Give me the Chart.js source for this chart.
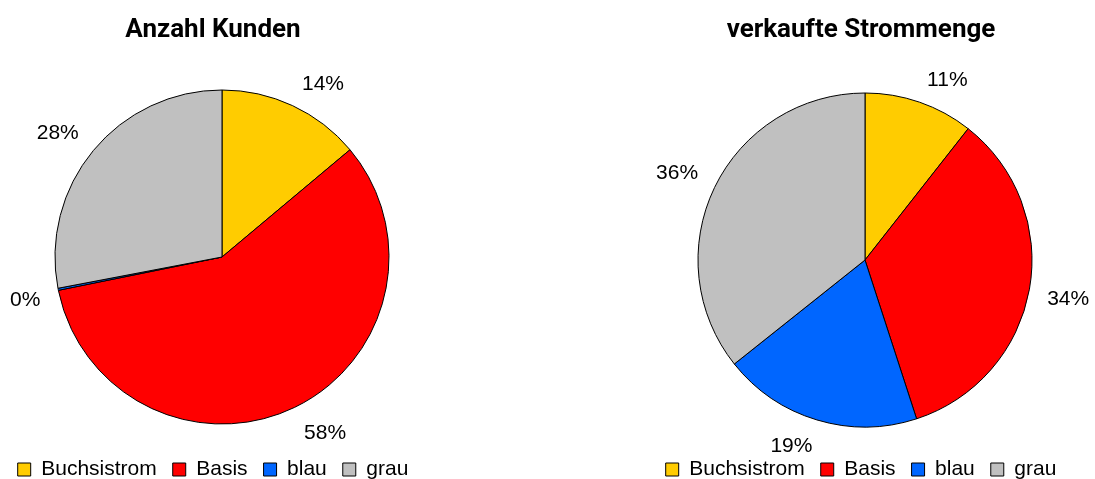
<!DOCTYPE html>
<html>
<head>
<meta charset="utf-8">
<script src="https://cdn.jsdelivr.net/npm/chart.js@4"></script>
<style>
  html, body { margin: 0; padding: 0; background: #fff; overflow: hidden; }
  .wrap { position: absolute; top: 0; width: 548px; height: 490px; }
  #left { left: -61px; }
  #right { left: 587px; }
</style>
</head>
<body>
<div class="wrap" id="left"><canvas id="kunden" width="548" height="490"></canvas></div>
<div class="wrap" id="right"><canvas id="strom" width="548" height="490"></canvas></div>
<script>
const categories = ["Buchsistrom", "Basis", "blau", "grau"];
const kundenShares = [13.9, 57.9, 0.2, 28.0];
const stromShares = [10.6, 34.4, 19.3, 35.7];
const sliceColors = ["#FFCC00", "#FF0000", "#0066FF", "#C0C0C0"];

// move the chart area so the pie centre lands where it is in the picture
const placePie = {
  id: "placePie",
  afterLayout(chart, args, opts) {
    const a = chart.chartArea;
    const w = a.right - a.left;
    const h = a.bottom - a.top;
    a.left = opts.cx - w / 2;
    a.right = opts.cx + w / 2;
    a.top = opts.cy - h / 2;
    a.bottom = opts.cy + h / 2;
  }
};

const clamp = v => Math.max(-1, Math.min(1, v));

// percentage labels outside each slice, pushed away from the pie
const outsideLabels = {
  id: "outsideLabels",
  afterDatasetsDraw(chart, args, opts) {
    const ctx = chart.ctx;
    const meta = chart.getDatasetMeta(0);
    const data = chart.data.datasets[0].data;
    ctx.save();
    ctx.font = opts.font;
    ctx.fillStyle = "#000";
    ctx.textAlign = "center";
    ctx.textBaseline = "middle";
    meta.data.forEach((arc, i) => {
      const mid = (arc.startAngle + arc.endAngle) / 2;
      const dx = Math.cos(mid);
      const dy = Math.sin(mid);
      const px = arc.x + dx * opts.dist;
      const py = arc.y + dy * opts.dist;
      const text = Math.round(data[i]) + "%";
      const w = ctx.measureText(text).width;
      const x = px + clamp(dx * 3) * w / 2 + Math.sign(dx) * 3;
      const y = py + clamp(dy * 3) * opts.height / 2 + 2;
      ctx.fillText(text, x, y);
    });
    ctx.restore();
  }
};

const makePie = (id, title, values, cx, cy) => {
  const ctx = document.getElementById(id).getContext("2d");
  return new Chart(ctx, {
    type: "pie",
    data: {
      labels: categories,
      datasets: [{
        data: values,
        backgroundColor: sliceColors,
        borderColor: "#000",
        borderWidth: 1,
        radius: 167,
      }],
    },
    options: {
      responsive: false,
      animation: false,
      color: "#000",
      plugins: {
        title: {
          display: true,
          text: title,
          color: "#000",
          font: { family: "Roboto", weight: "bold", size: 26 },
          padding: { top: 15, bottom: 20 },
        },
        legend: {
          position: "bottom",
          labels: {
            boxWidth: 13,
            boxHeight: 13,
            padding: 16,
            color: "#000",
            font: { family: "Liberation Sans", size: 21 },
          },
        },
        tooltip: { enabled: false },
        placePie: { cx, cy },
        outsideLabels: { font: "21px 'Liberation Sans'", dist: 182, height: 20 },
      },
    },
    plugins: [placePie, outsideLabels],
  });
};

makePie("kunden", "Anzahl Kunden", kundenShares, 283, 257);
makePie("strom", "verkaufte Strommenge", stromShares, 278, 260);
</script>
</body>
</html>
